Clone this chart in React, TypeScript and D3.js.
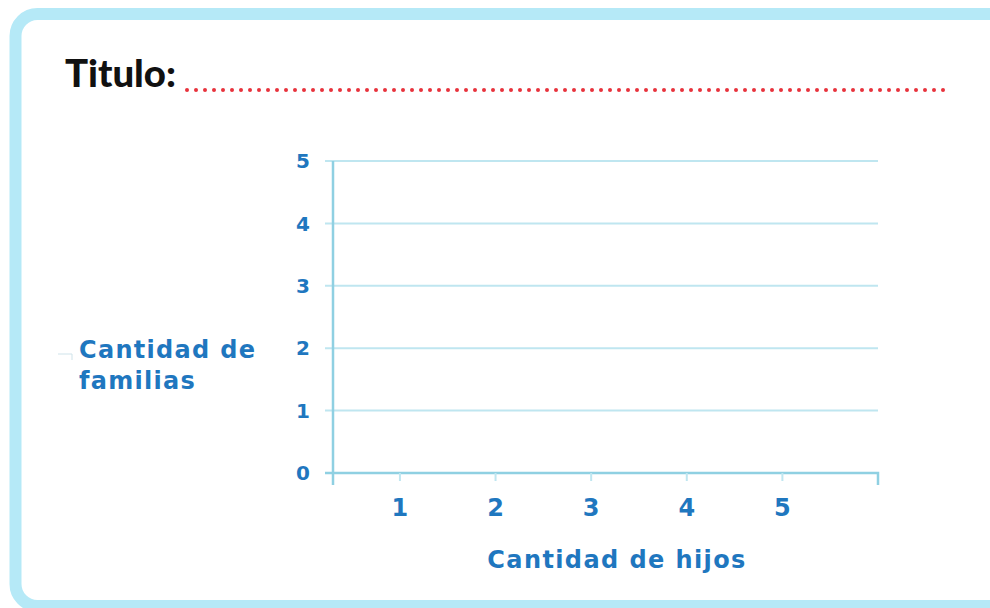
import React, { useEffect } from 'react';
import * as d3 from 'd3';

// chart content (an empty template graph)
const titleText = 'Titulo:';
const xTicks = [1, 2, 3, 4, 5];
const yTicks = [0, 1, 2, 3, 4, 5];
const xLabel = 'Cantidad de hijos';
const yLabelLines = ['Cantidad de', 'familias'];

const W = 990;
const H = 608;

const frameColor = '#b5e9f7';
const gridColor = '#bfe6f0';
const axisColor = '#8fd0e2';
const textBlue = '#1f77bf';
const dotRed = '#e8323c';

const App: React.FC = () => {
  useEffect(() => {
    document.body.style.margin = '0';
  }, []);

  const x = d3.scaleLinear().domain([0.3, 6]).range([333, 878]);
  const y = d3.scaleLinear().domain([0, 5]).range([473, 161]);

  // red dotted title line
  const dots = d3.range(187, 945, 9);

  const font = '"DejaVu Sans", sans-serif';

  return (
    <svg width={W} height={H} style={{ position: 'fixed', left: 0, top: 0, background: '#fff' }}>
      {/* frame */}
      <rect x={15.5} y={14} width={1000} height={592} rx={22} ry={22}
        fill="#fff" stroke={frameColor} strokeWidth={12} />

      {/* title */}
      <text x={65} y={87} fontFamily="Lato, sans-serif" fontWeight={900} fontSize={38}
        fill="#111" textLength={111} lengthAdjust="spacingAndGlyphs">{titleText}</text>
      {dots.map(d => (
        <circle key={d} cx={d} cy={90} r={2} fill={dotRed} />
      ))}

      {/* grid lines */}
      {yTicks.filter(t => t > 0).map(t => (
        <line key={t} x1={325} x2={x.range()[1]} y1={y(t)} y2={y(t)}
          stroke={gridColor} strokeWidth={2} />
      ))}

      {/* y axis */}
      <line x1={x.range()[0]} x2={x.range()[0]} y1={y(5)} y2={485} stroke={axisColor} strokeWidth={2.5} />
      {/* x axis */}
      <path d={`M325,${y(0)}H${x.range()[1]}V485`} fill="none" stroke={axisColor} strokeWidth={2.5} />
      {xTicks.map(t => (
        <line key={t} x1={x(t)} x2={x(t)} y1={y(0)} y2={y(0) + 8} stroke={gridColor} strokeWidth={2} />
      ))}

      {/* y tick labels */}
      {yTicks.map(t => (
        <text key={t} x={310} y={y(t)} dy="0.36em" textAnchor="end" fontFamily={font}
          fontWeight={700} fontSize={20} fill={textBlue}>{t}</text>
      ))}

      {/* x tick labels */}
      {xTicks.map(t => (
        <text key={t} x={x(t)} y={516} textAnchor="middle" fontFamily={font}
          fontWeight={700} fontSize={24} fill={textBlue}>{t}</text>
      ))}

      {/* axis titles */}
      <text x={617} y={568} textAnchor="middle" fontFamily={font} fontWeight={700}
        fontSize={24} fill={textBlue} letterSpacing={1.4}>{xLabel}</text>
      {yLabelLines.map((l, i) => (
        <text key={l} x={79} y={358 + i * 31} fontFamily={font} fontWeight={700}
          fontSize={24} fill={textBlue} letterSpacing={1.3}>{l}</text>
      ))}
      <path d="M58,354H72V360" fill="none" stroke="#cfe3ea" strokeWidth={1} />
    </svg>
  );
};

export default App;
